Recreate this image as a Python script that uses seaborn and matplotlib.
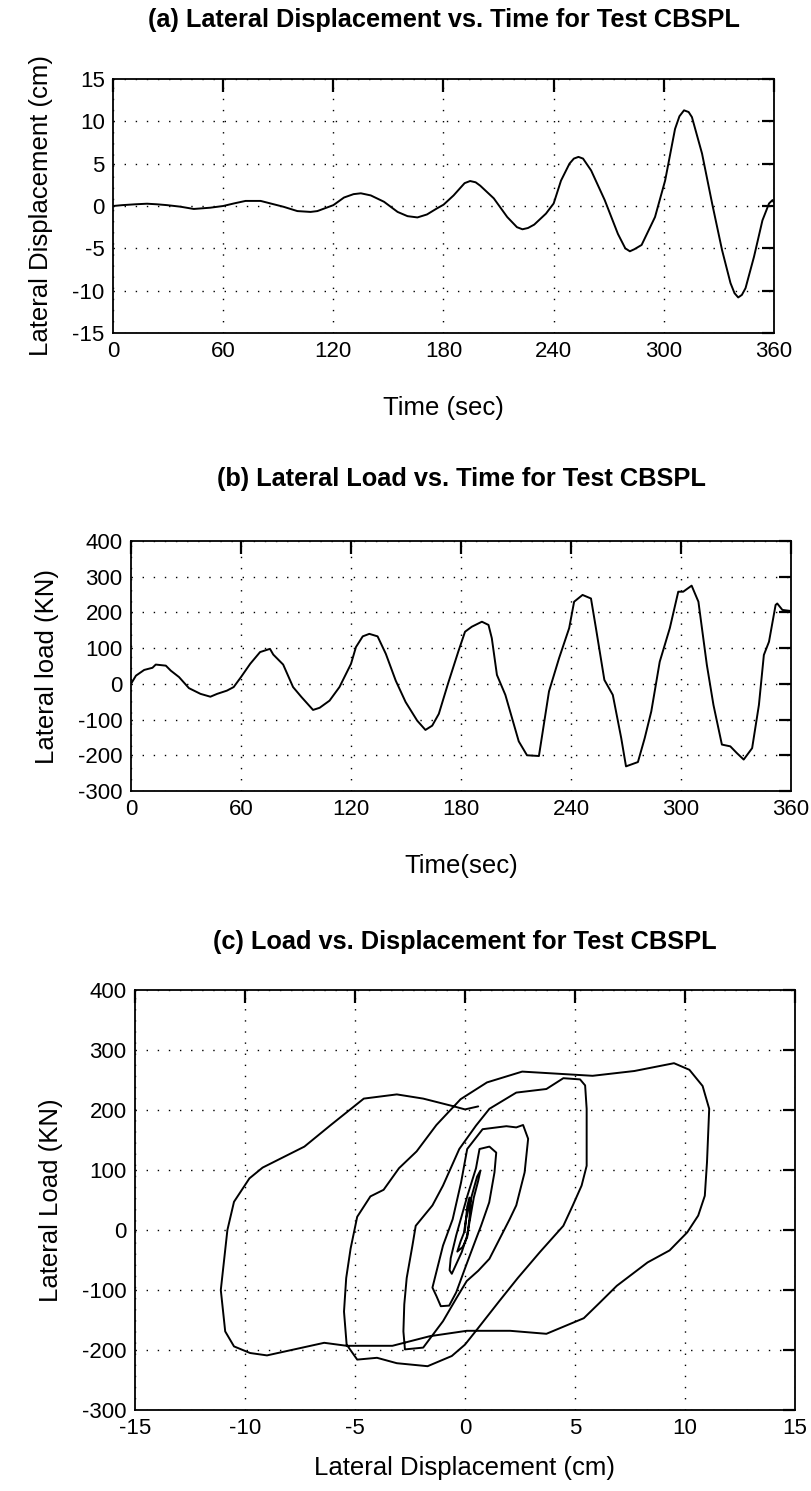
import matplotlib
matplotlib.use("Agg")
import matplotlib.pyplot as plt
import seaborn as sns
import pandas as pd

# ---------------- data ----------------
# (a) lateral displacement vs time
a_time = [0, 5, 12, 18.5, 24, 29.5, 36.7, 44, 53, 60, 65.8, 72.2, 80.4, 85.8, 93,
          100.4, 107.6, 111.3, 120, 125.8, 131, 135, 140.4, 147.6, 155, 160.4, 165.8,
          171, 176.3, 180, 185.5, 189, 191.5, 194.5, 197.5, 200, 207.4, 214.7, 220,
          223, 226, 229.4, 235.8, 240, 244, 248.6, 251, 253.5, 256, 260.4, 267.8,
          275, 279, 281.5, 284, 287.9, 295.2, 300.7, 306.1, 308.5, 311, 313.5, 315.3,
          320.8, 326.3, 331.7, 336.3, 338.5, 340.5, 342.5, 344.5, 349.1, 353.7,
          357.3, 359.2, 360]
a_disp = [0, 0.1, 0.2, 0.27, 0.2, 0.1, -0.08, -0.35, -0.2, 0, 0.3, 0.6, 0.6, 0.3, -0.1,
          -0.6, -0.7, -0.6, 0.1, 1.0, 1.4, 1.5, 1.25, 0.5, -0.7, -1.2, -1.35,
          -1.0, -0.3, 0.15, 1.25, 2.1, 2.7, 2.95, 2.8, 2.4, 0.9, -1.3, -2.5,
          -2.75, -2.6, -2.2, -0.9, 0.3, 3.0, 5.0, 5.6, 5.8, 5.6, 4.2, 0.7,
          -3.3, -5.0, -5.35, -5.1, -4.6, -1.3, 3.0, 9.1, 10.6, 11.3, 11.1, 10.5,
          6.2, 0.3, -5.2, -9.1, -10.3, -10.8, -10.5, -9.7, -6.0, -1.7,
          0.3, 0.7, 0.4]

# (b) lateral load vs time
b_time = [0, 2.7, 7.2, 11.7, 13.5, 19, 21.7, 26.2, 31.6, 37.9, 43.3, 47, 52.3, 56, 60,
          65, 70.4, 75.8, 77.6, 83, 88.4, 93, 99.3, 102.9, 108.3, 113.7, 120, 122.7,
          126.4, 130, 134.5, 139, 144.4, 149.8, 156.1, 160.6, 164.3, 167.9, 173,
          178.5, 182.2, 185.9, 191.4, 195, 196.8, 199.6, 204.2, 211.5, 216, 222.5,
          228, 233.5, 239, 241.7, 246.3, 250.9, 253.6, 258.2, 262.8, 267.4, 270,
          276.5, 280.2, 283.8, 288.4, 293.9, 298.5, 301.2, 305.8, 309.5, 314.1,
          317.7, 322.3, 326.9, 330.5, 334.2, 338.8, 342.5, 345.2, 348, 351.6,
          352.5, 355.3, 360]
b_load = [0, 23, 39, 45, 54, 51, 37, 19, -12, -28, -36, -28, -19, -9, 19,
          56, 89, 98, 82, 54, -9, -37, -73, -67, -47, -9, 56, 103,
          133, 140, 133, 84, 9, -51, -103, -129, -117, -84, 2,
          90, 146, 160, 174, 165, 128, 25, -31, -161, -200, -202,
          -21, 72, 156, 230, 249, 239, 156, 11, -31, -152, -231,
          -219, -152, -77, 62, 156, 258, 258, 275, 230, 53,
          -59, -170, -175, -194, -212, -180, -59, 81, 118, 221,
          225, 207, 204]

# (c) load vs displacement (hysteresis path, in time order)
c_disp = [0, 0.1, 0.2, 0.27, 0.2, 0.1, -0.1, -0.35, -0.2, -0.05, 0.05, 0.3, 0.55, 0.7,
          0.6, 0.4, 0.1, -0.15, -0.6, -0.7, -0.65, -0.4,
          0.1, 0.5, 0.66, 1.11, 1.42, 1.34, 1.1, 0.73, 0.5, 0.05,
          -0.4, -0.72, -1.1, -1.3, -1.48, -1.0, -0.56, -0.18, 0.1, 0.8,
          1.88, 2.33, 2.64, 2.87, 2.71, 2.33, 2.03, 1.57, 1.11, 0.6,
          0.08, -0.38, -1.0, -1.9, -2.73, -2.8, -2.76, -2.65, -2.39, -2.24,
          -1.48, -1.0, -0.26, 0.5, 1.11, 2.33, 3.7, 4.47, 5.23, 5.46,
          5.53, 5.53, 5.3, 4.9, 4.47, 3.4, 2.4, 1.57, 0.5, 0.0,
          -0.6, -1.7, -3.1, -4.0, -4.9, -5.38, -5.5, -5.4, -5.2, -4.9,
          -4.3, -3.7, -3.0, -2.2, -1.3, -0.2, 1.0, 2.6, 5.8, 7.7,
          9.5, 10.2, 10.8, 11.1, 11.0, 10.9, 10.6, 10.1, 9.3, 8.3,
          6.9, 6.1, 5.4, 3.7, 2.05, 0.08, -1.6, -3.3, -5.38, -6.4,
          -9.0, -9.77, -10.5, -10.9, -11.1, -10.8, -10.5, -9.8, -9.2, -7.3,
          -6.1, -4.6, -3.1, -1.9, -0.5, 0.0, 0.6]
c_load = [0, 39, 54, 51, 19, -12, -28, -36, -19, -5, 19, 56, 89, 99,
          82, 54, -9, -37, -73, -67, -47, -9,
          56, 103, 135, 139, 129, 96, 46, 7, -15, -59,
          -104, -126, -127, -110, -96, -26, 18, 79, 135, 168,
          173, 171, 175, 152, 96, 41, 18, -15, -48, -68,
          -85, -113, -152, -196, -199, -169, -124, -80, -26, 7,
          41, 74, 135, 174, 202, 229, 235, 253, 251, 241,
          202, 107, 74, 41, 7, -37, -80, -118, -168, -191,
          -210, -227, -222, -213, -216, -191, -136, -80, -31, 22,
          56, 67, 103, 131, 175, 218, 246, 264, 257, 265,
          278, 267, 240, 202, 113, 57, 24, -4, -34, -54,
          -93, -122, -147, -173, -168, -168, -177, -193, -193, -188,
          -209, -205, -194, -169, -100, 0, 47, 86, 104, 139,
          175, 219, 226, 219, 206, 201, 206]

time_ticks = [0, 60, 120, 180, 240, 300, 360]
disp_ticks = [-15, -10, -5, 0, 5, 10, 15]
load_ticks = [-300, -200, -100, 0, 100, 200, 300, 400]

titles = ["(a) Lateral Displacement vs. Time for Test CBSPL",
          "(b) Lateral Load vs. Time for Test CBSPL",
          "(c) Load vs. Displacement for Test CBSPL"]

# ---------------- style ----------------
sns.set_theme(style="white")
plt.rcParams["font.family"] = ["Liberation Sans", "DejaVu Sans"]
plt.rcParams["axes.unicode_minus"] = False
plt.rcParams["text.color"] = "black"
plt.rcParams["axes.labelcolor"] = "black"
plt.rcParams["xtick.color"] = "black"
plt.rcParams["ytick.color"] = "black"

W, H = 812, 1491
fig = plt.figure(figsize=(W / 100, H / 100), dpi=100)
fig.patch.set_facecolor("white")


def add_axes_px(left, top, right, bottom):
    return fig.add_axes([left / W, 1 - bottom / H, (right - left) / W, (bottom - top) / H])


TICK_FS = 16
LAB_FS = 18.5
TITLE_FS = 18.3


def style(ax, xticks, yticks):
    ax.set_xticks(xticks)
    ax.set_yticks(yticks)
    ax.set_xlim(xticks[0], xticks[-1])
    ax.set_ylim(yticks[0], yticks[-1])
    ax.grid(True, color="black", linestyle=(0, (1, 7)), linewidth=1.0)
    ax.tick_params(direction="in", length=9, width=1.6, top=True, right=True,
                   labelsize=TICK_FS, colors="black", labelcolor="black", pad=6)
    for s in ax.spines.values():
        s.set_visible(True)
        s.set_color("black")
        s.set_linewidth(1.3)
    ax.set_facecolor("white")


# (a)
ax1 = add_axes_px(113, 79, 774, 333)
dfa = pd.DataFrame({"t": a_time, "d": a_disp})
sns.lineplot(data=dfa, x="t", y="d", ax=ax1, color="black", linewidth=1.4,
             estimator=None, sort=False)
style(ax1, time_ticks, disp_ticks)
ax1.set_xlabel("Time (sec)", fontsize=LAB_FS, labelpad=24, color="black")
ax1.set_ylabel("Lateral Displacement (cm)", fontsize=LAB_FS, labelpad=14, color="black")

# (b)
ax2 = add_axes_px(131, 541, 791, 791)
dfb = pd.DataFrame({"t": b_time, "L": b_load})
sns.lineplot(data=dfb, x="t", y="L", ax=ax2, color="black", linewidth=1.4,
             estimator=None, sort=False)
style(ax2, time_ticks, load_ticks)
ax2.set_xlabel("Time(sec)", fontsize=LAB_FS, labelpad=24, color="black")
ax2.set_ylabel("Lateral load (KN)", fontsize=LAB_FS, labelpad=14, color="black")

# (c)
ax3 = add_axes_px(135, 990, 795, 1410)
dfc = pd.DataFrame({"d": c_disp, "L": c_load})
sns.lineplot(data=dfc, x="d", y="L", ax=ax3, color="black", linewidth=1.4,
             estimator=None, sort=False)
style(ax3, disp_ticks, load_ticks)
ax3.set_xlabel("Lateral Displacement (cm)", fontsize=LAB_FS, labelpad=12, color="black")
ax3.set_ylabel("Lateral Load (KN)", fontsize=LAB_FS, labelpad=14, color="black")

# titles
for ax, title, ypx in [(ax1, titles[0], 20), (ax2, titles[1], 479), (ax3, titles[2], 942)]:
    pos = ax.get_position()
    fig.text((pos.x0 + pos.x1) / 2, 1 - ypx / H, title, ha="center", va="center",
             fontsize=TITLE_FS, fontweight="bold", color="black")

fig.savefig("out.png", dpi=100, facecolor="white")
